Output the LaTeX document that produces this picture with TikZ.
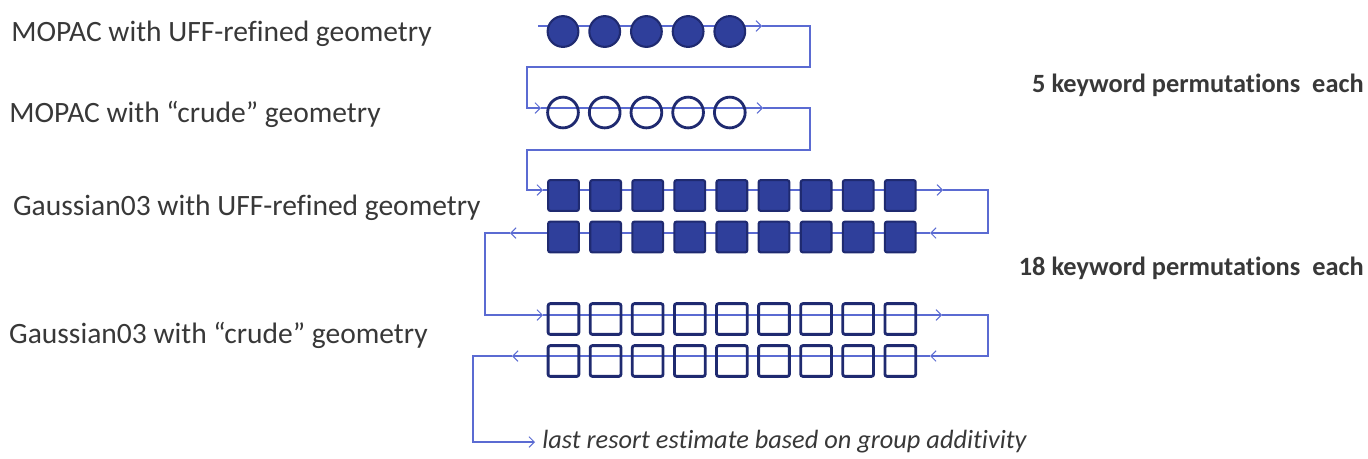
\documentclass[tikz,border=0pt]{standalone}
\usepackage{fontspec}
\setmainfont{Carlito}[Ligatures={TeX,NoCommon}]
\usetikzlibrary{arrows.meta}
\definecolor{flowblue}{HTML}{5B6BD2}
\definecolor{navyfill}{HTML}{2F3F9B}
\definecolor{navyline}{HTML}{1F2A70}
\definecolor{labelgray}{HTML}{383838}
\tikzset{
  fullcirc/.style={circle,draw=navyline,fill=navyfill,line width=1.2pt,minimum size=17.5pt,inner sep=0pt},
  opencirc/.style={fullcirc,fill=none,line width=1.6pt},
  fullsq/.style={rectangle,rounded corners=1.2pt,draw=navyline,fill=navyfill,line width=1.2pt,minimum size=17.5pt,inner sep=0pt},
  opensq/.style={fullsq,fill=none,line width=1.6pt},
  flowline/.style={draw=flowblue,line width=0.6pt},
  flowarrow/.style={flowline,-{Straight Barb[length=3pt,width=6pt]}},
  methodlbl/.style={font=\fontsize{16.8}{20}\selectfont,text=labelgray,anchor=base east,inner sep=0pt},
  countlbl/.style={font=\fontsize{15}{18}\selectfont\bfseries,text=labelgray,anchor=base east,inner sep=0pt},
  resortlbl/.style={font=\fontsize{15}{18}\selectfont\itshape,text=labelgray,anchor=west,inner xsep=4pt,inner ysep=0pt},
}

\begin{document}
\begin{tikzpicture}[x=0.02cm,y=-0.02cm]
  \useasboundingbox (0,0) rectangle (1368,458);

  % labels
  \node[methodlbl] (lMopacUff) at (432,41) {MOPAC with UFF-refined geometry};
  \node[methodlbl] (lMopacCrude) at (381,122) {MOPAC with “crude” geometry};
  \node[methodlbl] (lGaussUff) at (481,215) {Gaussian03 with UFF-refined geometry};
  \node[methodlbl] (lGaussCrude) at (428,343) {Gaussian03 with “crude” geometry};
  \node[countlbl] (lFive) at (1364,92) {5 keyword permutations~ each};
  \node[countlbl] (lEighteen) at (1364,275) {18 keyword permutations~ each};
  \node[resortlbl] (last) at (535,442) {last resort estimate based on group additivity};

  % flow points
  \coordinate (s1) at (538,26);
  \coordinate (p1) at (762,26);
  \coordinate (kR1) at (810,67);
  \coordinate (kL1) at (527,108);
  \coordinate (q2) at (541,108);
  \coordinate (p2) at (763,108);
  \coordinate (kR2) at (810,150);
  \coordinate (kL2) at (527,190);
  \coordinate (q3) at (543,190);
  \coordinate (p3) at (943,190);
  \coordinate (kR3) at (988,233);
  \coordinate (q4) at (930,233);
  \coordinate (p4) at (510,233);
  \coordinate (kL3) at (485,315);
  \coordinate (q5) at (543,315);
  \coordinate (p5) at (942,315);
  \coordinate (kR4) at (988,356);
  \coordinate (q6) at (930,356);
  \coordinate (p6) at (512,356);
  \coordinate (kL4) at (473,442);

  \draw[flowarrow] (s1) -- (p1);
  \draw[flowarrow] (p1) -| (kR1) -| (kL1) -- (q2);
  \draw[flowarrow] (q2) -- (p2);
  \draw[flowarrow] (p2) -| (kR2) -| (kL2) -- (q3);
  \draw[flowarrow] (q3) -- (p3);
  \draw[flowarrow] (p3) -| (kR3) -- (q4);
  \draw[flowarrow] (q4) -- (p4);
  \draw[flowarrow] (p4) -| (kL3) -- (q5);
  \draw[flowarrow] (q5) -- (p5);
  \draw[flowarrow] (p5) -| (kR4) -- (q6);
  \draw[flowarrow] (q6) -- (p6);
  \draw[flowarrow] (p6) -| (kL4) -- (last.west);

  % MOPAC rows
  \foreach \i in {1,...,5} {
    \node[fullcirc] (mu\i) at ({563+41.7*(\i-1)},31.5) {};
    \node[opencirc] (mc\i) at ({563+41.7*(\i-1)},112.5) {};
  }
  % Gaussian03 rows
  \foreach \i in {1,...,9} {
    \node[fullsq] (gu\i) at ({563.5+42.1*(\i-1)},195.5) {};
    \node[fullsq] (gv\i) at ({563.5+42.1*(\i-1)},237) {};
    \node[opensq] (gc\i) at ({563.5+42.1*(\i-1)},319) {};
    \node[opensq] (gd\i) at ({563.5+42.1*(\i-1)},361) {};
  }
\end{tikzpicture}
\end{document}
